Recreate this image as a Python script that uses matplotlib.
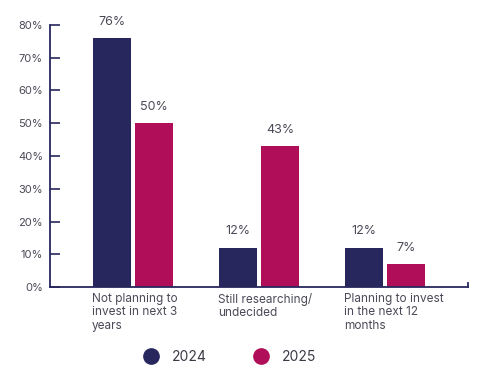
import matplotlib
matplotlib.use("Agg")
import matplotlib.pyplot as plt
import numpy as np
from matplotlib.lines import Line2D

# --- data ---
categories = [
    "Not planning to\ninvest in next 3\nyears",
    "Still researching/\nundecided",
    "Planning to invest\nin the next 12\nmonths",
]
values_2024 = [76, 12, 12]
values_2025 = [50, 43, 7]
series_names = ["2024", "2025"]
y_ticks = [0, 10, 20, 30, 40, 50, 60, 70, 80]

# --- style ---
NAVY = "#27275e"
MAGENTA = "#b00e58"
TEXT = "#4a4a58"
BAR_WIDTH = 0.30
BAR_GAP = 0.035

plt.rcParams["font.family"] = ["Inter", "DejaVu Sans"]

fig = plt.figure(figsize=(4.91, 3.83), dpi=100)
ax = fig.add_axes([50 / 491, 1 - 287 / 383, (468 - 50) / 491, (287 - 25) / 383])

x = np.arange(len(categories))
off = BAR_WIDTH / 2 + BAR_GAP / 2
bars_a = ax.bar(x - off, values_2024, BAR_WIDTH, color=NAVY, zorder=2)
bars_b = ax.bar(x + off, values_2025, BAR_WIDTH, color=MAGENTA, zorder=2)

for bars in (bars_a, bars_b):
    for b in bars:
        ax.annotate(
            f"{b.get_height():.0f}%",
            (b.get_x() + b.get_width() / 2, b.get_height()),
            textcoords="offset points",
            xytext=(0, 7.5),
            ha="center",
            va="bottom",
            fontsize=9,
            color=TEXT,
        )

ax.set_xlim(-0.66, 2.66)
ax.set_ylim(0, 80)
ax.set_yticks(y_ticks)
ax.set_yticklabels([f"{t}%" for t in y_ticks])
ax.tick_params(axis="y", direction="in", length=7, width=1.2, color=NAVY,
               labelsize=8, labelcolor=TEXT, pad=5)
ax.tick_params(axis="x", length=0)
ax.set_xticks([])

for side in ("top", "right"):
    ax.spines[side].set_visible(False)
for side in ("left", "bottom"):
    ax.spines[side].set_color(NAVY)
    ax.spines[side].set_linewidth(1.3)
ax.axvline(2.66, ymin=0, ymax=0.015, color=NAVY, lw=1.3, clip_on=False)

for xi, label in zip(x, categories):
    ax.annotate(
        label,
        (xi - off - BAR_WIDTH / 2 - 0.01, 0),
        xycoords="data",
        textcoords="offset points",
        xytext=(0, -4),
        ha="left",
        va="top",
        fontsize=8.5,
        color=TEXT,
        linespacing=1.2,
        annotation_clip=False,
    )

handles = [
    Line2D([], [], marker="o", ls="", markersize=11, color=NAVY),
    Line2D([], [], marker="o", ls="", markersize=11, color=MAGENTA),
]
fig.legend(
    handles,
    series_names,
    loc="center",
    bbox_to_anchor=(0.462, 0.068),
    ncol=2,
    frameon=False,
    fontsize=10,
    labelcolor="#3a3a46",
    handletextpad=0.5,
    columnspacing=2.9,
)

fig.savefig("out.png", dpi=100, facecolor="white")
